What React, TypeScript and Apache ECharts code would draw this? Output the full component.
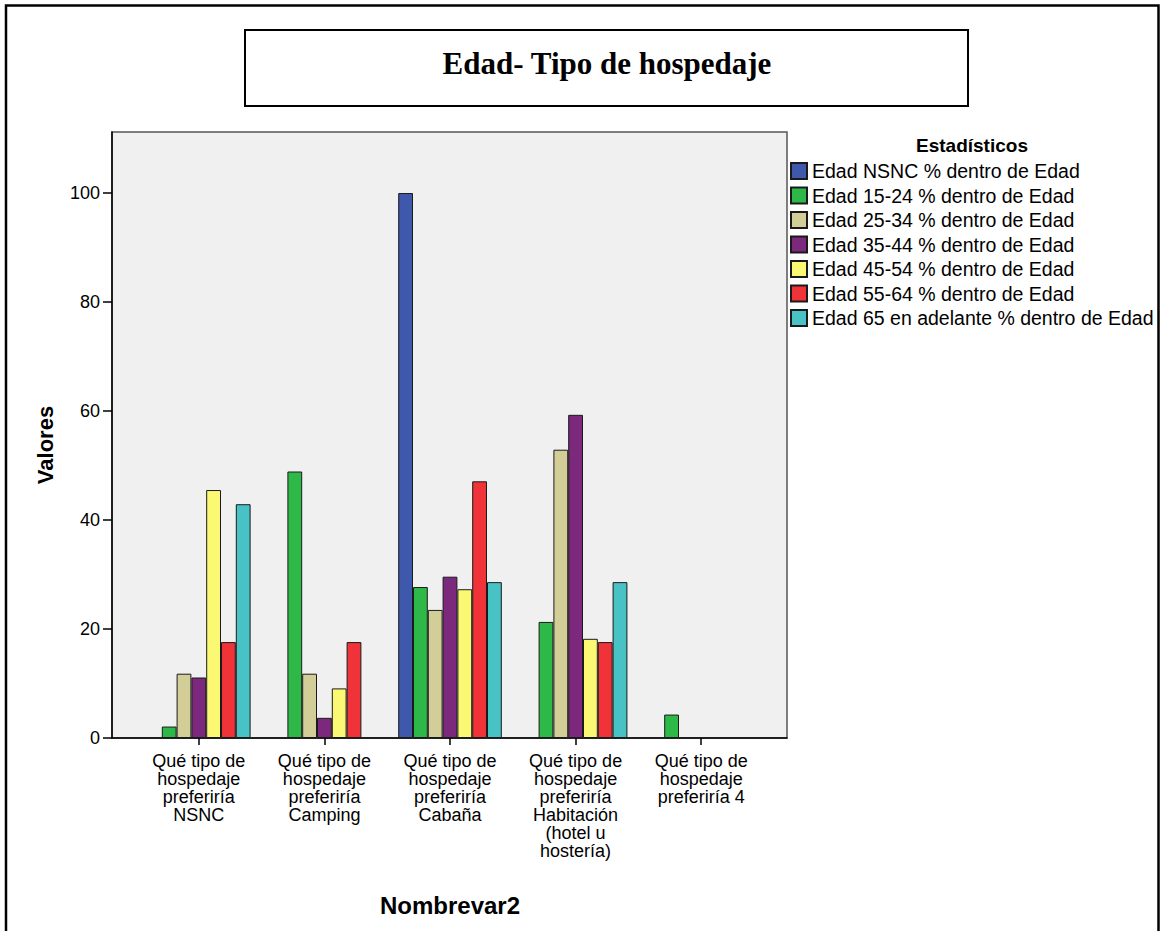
import React, { useEffect, useRef } from "react";
import * as echarts from "echarts";

const categories = [
  "Qué tipo de\nhospedaje\npreferiría\nNSNC",
  "Qué tipo de\nhospedaje\npreferiría\nCamping",
  "Qué tipo de\nhospedaje\npreferiría\nCabaña",
  "Qué tipo de\nhospedaje\npreferiría\nHabitación\n(hotel u\nhostería)",
  "Qué tipo de\nhospedaje\npreferiría 4",
];

const seriesNames = [
  "Edad NSNC % dentro de Edad",
  "Edad 15-24 % dentro de Edad",
  "Edad 25-34 % dentro de Edad",
  "Edad 35-44 % dentro de Edad",
  "Edad 45-54 % dentro de Edad",
  "Edad 55-64 % dentro de Edad",
  "Edad 65 en adelante % dentro de Edad",
];

const edadNSNC = [null, null, 100, null, null];
const edad1524 = [2.1, 48.9, 27.7, 21.3, 4.3];
const edad2534 = [11.8, 11.8, 23.5, 52.9, null];
const edad3544 = [11.1, 3.7, 29.6, 59.3, null];
const edad4554 = [45.5, 9.1, 27.3, 18.2, null];
const edad5564 = [17.6, 17.6, 47.1, 17.6, null];
const edad65 = [42.9, null, 28.6, 28.6, null];

const seriesValues = [edadNSNC, edad1524, edad2534, edad3544, edad4554, edad5564, edad65];

const yTicks = [0, 20, 40, 60, 80, 100];
const yMax = 111.2;

const colors = ["#3E58AC", "#2EB848", "#D3CE97", "#7C287D", "#FBF873", "#EF3338", "#48C2C5"];

const chartTitle = "Edad- Tipo de hospedaje";
const yTitle = "Valores";
const xTitle = "Nombrevar2";
const legendTitle = "Estadísticos";

const W = 1160;
const H = 931;
const FONT = "'Liberation Sans', Arial, sans-serif";

export default function App() {
  const ref = useRef<HTMLDivElement>(null);
  useEffect(() => {
    if (!ref.current) return;
    const chart = echarts.init(ref.current, undefined, { renderer: "svg" });
    const plotL = 112, plotR = 787, plotT = 132, plotB = 738;
    const innerL = 136, innerR = 764;
    chart.setOption({
      animation: false,
      backgroundColor: "#ffffff",
      grid: [
        {
          left: plotL, right: W - plotR, top: plotT, bottom: H - plotB,
          show: true, backgroundColor: "#F0F0F0", borderColor: "#555", borderWidth: 1.5,
        },
        { left: innerL, right: W - innerR, top: plotT, bottom: H - plotB },
      ],
      xAxis: [
        {
          gridIndex: 0, type: "value", min: 0, max: 1,
          axisLine: { show: true, lineStyle: { color: "#000", width: 1.5 } },
          axisTick: { show: false }, axisLabel: { show: false }, splitLine: { show: false },
        },
        {
          gridIndex: 1, type: "category", data: categories,
          axisLine: { show: false },
          axisTick: { show: true, alignWithLabel: true, length: 7, lineStyle: { color: "#000", width: 1.5 } },
          axisLabel: {
            show: true, interval: 0, color: "#000", fontFamily: FONT, fontSize: 18,
            lineHeight: 18, margin: 14, align: "center",
          },
          splitLine: { show: false },
        },
      ],
      yAxis: [
        {
          gridIndex: 0, type: "value", min: 0, max: yMax,
          axisLine: { show: true, lineStyle: { color: "#000", width: 1.5 } },
          axisTick: { show: true, length: 9, lineStyle: { color: "#000", width: 1.5 }, customValues: yTicks },
          axisLabel: { show: true, color: "#000", fontFamily: FONT, fontSize: 18, margin: 12, customValues: yTicks },
          splitLine: { show: false },
        },
        {
          gridIndex: 1, type: "value", min: 0, max: yMax, show: false,
        },
      ],
      legend: {
        orient: "vertical", left: 785, top: 156, itemWidth: 16, itemHeight: 16, itemGap: 4.5,
        icon: "rect", data: seriesNames,
        textStyle: { color: "#000", fontFamily: FONT, fontSize: 19.5, padding: [0, 0, 0, 0] },
      },
      series: seriesNames.map((name, i) => ({
        name, type: "bar", xAxisIndex: 1, yAxisIndex: 1,
        data: seriesValues[i], barWidth: 14.8, barGap: "0%",
        itemStyle: { color: colors[i], borderColor: "#1a1a1a", borderWidth: 1 },
      })),
      graphic: [
        {
          type: "rect", shape: { x: 6, y: 5.5, width: 1152.5, height: 1000 },
          style: { fill: "none", stroke: "#000", lineWidth: 2.5 }, silent: true, z: 100,
        },
        {
          type: "rect", shape: { x: 245, y: 30, width: 723, height: 76 },
          style: { fill: "none", stroke: "#000", lineWidth: 2 }, silent: true,
        },
        {
          type: "text", x: 607, y: 63,
          style: {
            text: chartTitle, fill: "#000", font: "bold 31px 'Liberation Serif', 'Times New Roman', serif",
            align: "center", verticalAlign: "middle",
          },
        },
        {
          type: "text", x: 45, y: 445, rotation: Math.PI / 2,
          style: {
            text: yTitle, fill: "#000", font: `bold 22px ${FONT}`,
            align: "center", verticalAlign: "middle",
          },
        },
        {
          type: "text", x: 450, y: 905,
          style: {
            text: xTitle, fill: "#000", font: `bold 24px ${FONT}`,
            align: "center", verticalAlign: "middle",
          },
        },
        {
          type: "text", x: 972, y: 145,
          style: {
            text: legendTitle, fill: "#000", font: `bold 19px ${FONT}`,
            align: "center", verticalAlign: "middle",
          },
        },
      ],
    });
    return () => chart.dispose();
  }, []);
  return (
    <div
      ref={ref}
      style={{ position: "fixed", left: 0, top: 0, width: W, height: H, background: "#fff" }}
    />
  );
}
